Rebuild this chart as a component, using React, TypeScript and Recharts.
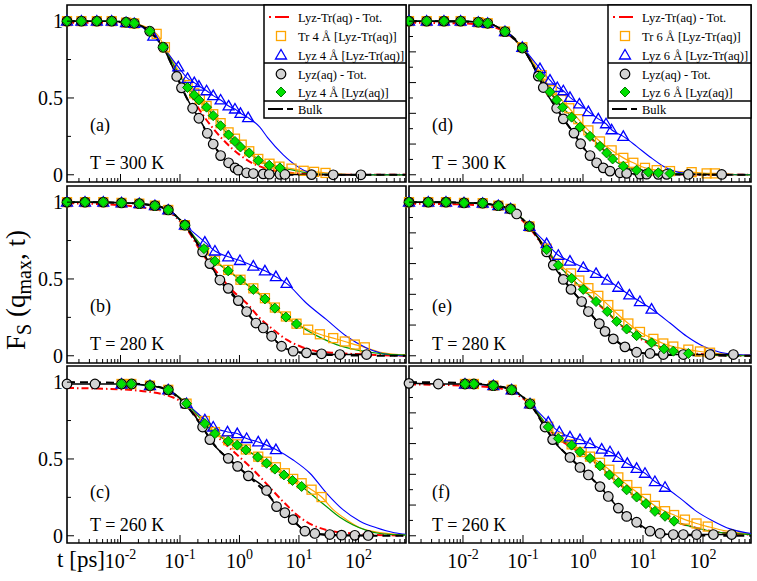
import React from "react";
import { ComposedChart, Line, Scatter, XAxis, YAxis, ReferenceArea } from "recharts";

type Pt = [number, number];

const T_MIN = 0.00126;
const T_MAX = 631;
const Y_MIN = -0.047;
const Y_MAX = 1.105;

const X_MAJOR = [0.01, 0.1, 1, 10, 100];
const X_EXP = ["-2", "-1", "0", "1", "2"];
const Y_TICKS_LEFT = [0, 0.25, 0.5, 0.75, 1];
const Y_LABELS_LEFT = ["0", "", "0.5", "", "1"];
const Y_TICKS_RIGHT = [0, 0.1, 0.2, 0.3, 0.4, 0.5, 0.6, 0.7, 0.8, 0.9, 1];

const X_TICKS: number[] = [];
[0.001, 0.01, 0.1, 1, 10, 100].forEach((d) => {
  for (let k = 1; k <= 9; k++) {
    const v = +(k * d).toPrecision(3);
    if (v >= T_MIN && v <= T_MAX) X_TICKS.push(v);
  }
});

const NAMES = ["(a)", "(b)", "(c)", "(d)", "(e)", "(f)"];
const TEMPS = ["T = 300 K", "T = 280 K", "T = 260 K"];
const LEGEND_4 = ["Lyz-Tr(aq) - Tot.", "Tr 4 Å [Lyz-Tr(aq)]", "Lyz 4 Å [Lyz-Tr(aq)]", "Lyz(aq) - Tot.", "Lyz 4 Å [Lyz(aq)]", "Bulk"];
const LEGEND_6 = ["Lyz-Tr(aq) - Tot.", "Tr 6 Å [Lyz-Tr(aq)]", "Lyz 6 Å [Lyz-Tr(aq)]", "Lyz(aq) - Tot.", "Lyz 6 Å [Lyz(aq)]", "Bulk"];

// ---- panel (a) 300 K, 4 A ----
const aTot: Pt[] = [[0.00126, 0.99], [0.004, 0.99], [0.01, 0.985], [0.02, 0.972], [0.032, 0.935], [0.05, 0.845], [0.088, 0.67], [0.138, 0.55], [0.2, 0.44], [0.363, 0.3], [0.6, 0.207], [1.0, 0.131], [1.7, 0.073], [2.9, 0.039], [5.5, 0.017], [16, 0.005], [40, 0], [631, 0]];
const aTr: Pt[] = [[0.00126, 1.0], [0.0022, 1.0], [0.004, 1.0], [0.0071, 1.0], [0.0124, 0.99], [0.017, 0.985], [0.0405, 0.917], [0.0558, 0.83], [0.134, 0.584], [0.174, 0.53], [0.216, 0.491], [0.28, 0.448], [0.362, 0.394], [0.482, 0.336], [0.656, 0.276], [0.84, 0.235], [1.09, 0.196], [1.46, 0.153], [2.07, 0.103], [3.2, 0.072], [4.7, 0.053], [7.5, 0.04], [12, 0.026], [18, 0.019], [28, 0.012]];
const aTrTail: Pt[] = [[50, 0.005], [100, 0.001], [631, 0]];
const aLyz: Pt[] = [[0.00126, 1.0], [0.0022, 1.0], [0.004, 1.0], [0.0071, 1.0], [0.0124, 0.99], [0.017, 0.985], [0.0356, 0.902], [0.0936, 0.702], [0.134, 0.627], [0.174, 0.6], [0.208, 0.577], [0.28, 0.547], [0.362, 0.515], [0.482, 0.487], [0.656, 0.448], [0.84, 0.428], [1.04, 0.4], [1.4, 0.372]];
const aLyzTail: Pt[] = [[2.2, 0.31], [3.0, 0.24], [5.4, 0.131], [9.8, 0.05], [14.5, 0.016], [22, 0.004], [50, 0], [631, 0]];
const aAq: Pt[] = [[0.00126, 1.0], [0.0022, 1.0], [0.004, 1.0], [0.0071, 1.0], [0.0124, 0.993], [0.017, 0.986], [0.031, 0.934], [0.052, 0.83], [0.088, 0.64], [0.106, 0.566], [0.163, 0.433], [0.208, 0.368], [0.288, 0.27], [0.362, 0.2], [0.482, 0.125], [0.656, 0.078], [0.84, 0.045], [0.955, 0.03], [1.32, 0.013], [1.71, 0.008], [2.51, 0.006], [3.17, 0.004], [4.79, 0.003], [5.81, 0.002], [16.3, 0.001], [37.7, 0], [110, 0]];
const aShell: Pt[] = [[0.00126, 1.0], [0.0022, 1.0], [0.004, 1.0], [0.0071, 1.0], [0.0124, 0.993], [0.017, 0.986], [0.031, 0.934], [0.052, 0.83], [0.134, 0.568], [0.174, 0.519], [0.208, 0.487], [0.28, 0.44], [0.362, 0.385], [0.482, 0.319], [0.656, 0.26], [0.84, 0.217], [1.04, 0.181], [1.46, 0.142], [2.07, 0.093], [3.17, 0.062], [4.79, 0.045]];
const aShellTail: Pt[] = [[8.0, 0.03], [13.4, 0.013], [30, 0.003], [100, 0], [631, 0]];
const aBulk: Pt[] = [[0.00126, 1.0], [0.01, 0.995], [0.03, 0.94], [0.05, 0.84], [0.088, 0.645], [0.13, 0.5], [0.2, 0.375], [0.3, 0.26], [0.5, 0.12], [0.8, 0.048], [1.3, 0.014], [3, 0.003], [10, 0], [631, 0]];

// ---- panel (b) 280 K, 4 A ----
const bTot: Pt[] = [[0.00126, 0.993], [0.01, 0.98], [0.0379, 0.952], [0.0635, 0.935], [0.121, 0.84], [0.246, 0.657], [0.41, 0.547], [0.79, 0.418], [1.32, 0.342], [2.2, 0.245], [3.7, 0.17], [6.2, 0.105], [10.4, 0.062], [19.8, 0.03], [37.7, 0.02], [137, 0.008], [631, 0]];
const bTr: Pt[] = [[0.00126, 1.0], [0.00253, 1.0], [0.00514, 1.0], [0.0104, 0.995], [0.0207, 0.99], [0.0379, 0.977], [0.0635, 0.949], [0.121, 0.85], [0.253, 0.687], [0.387, 0.62], [0.647, 0.559], [1.04, 0.495], [1.71, 0.439], [2.68, 0.375], [3.94, 0.314], [6.04, 0.256], [9.1, 0.209], [14.3, 0.17], [22.5, 0.14], [37.7, 0.115], [59, 0.093], [87, 0.073], [128, 0.055]];
const bTrTail: Pt[] = [[250, 0.02], [631, 0.004]];
const bLyz: Pt[] = [[0.00126, 1.0], [0.00253, 1.0], [0.00514, 1.0], [0.0104, 0.995], [0.0207, 0.99], [0.0379, 0.977], [0.0635, 0.949], [0.121, 0.85], [0.262, 0.74], [0.387, 0.682], [0.647, 0.644], [1.02, 0.62], [1.71, 0.584], [2.68, 0.553], [4.1, 0.515], [6.2, 0.471]];
const bLyzTail: Pt[] = [[13.4, 0.342], [29.1, 0.235], [63, 0.127], [137, 0.051], [229, 0.019], [400, 0.004], [631, 0]];
const bAq: Pt[] = [[0.00126, 1.0], [0.00253, 1.0], [0.00514, 1.0], [0.0104, 0.995], [0.0207, 0.99], [0.0379, 0.977], [0.0635, 0.949], [0.121, 0.85], [0.24, 0.676], [0.318, 0.6], [0.469, 0.493], [0.647, 0.439], [0.955, 0.359], [1.32, 0.288], [1.89, 0.213], [2.51, 0.181], [3.47, 0.127], [5.1, 0.062], [8.0, 0.03], [13.4, 0.019], [24, 0.013], [48.8, 0.008], [137, 0.008]];
const bShell: Pt[] = [[0.00126, 1.0], [0.00253, 1.0], [0.00514, 1.0], [0.0104, 0.995], [0.0207, 0.99], [0.0379, 0.977], [0.0635, 0.949], [0.121, 0.85], [0.253, 0.697], [0.387, 0.616], [0.647, 0.553], [1.04, 0.493], [1.71, 0.432], [2.68, 0.37], [3.94, 0.31], [6.04, 0.252], [9.1, 0.207]];
const bShellTail: Pt[] = [[19.8, 0.131], [42.9, 0.073], [106, 0.034], [229, 0.015], [631, 0.004]];
const bBulk: Pt[] = [[0.00126, 1.0], [0.01, 0.995], [0.04, 0.975], [0.065, 0.945], [0.12, 0.85], [0.24, 0.675], [0.47, 0.49], [0.95, 0.355], [1.9, 0.21], [3.5, 0.12], [5.5, 0.055], [9, 0.025], [20, 0.01], [60, 0.003], [631, 0]];

// ---- panel (c) 260 K, 4 A ----
const cTot: Pt[] = [[0.00126, 0.962], [0.004, 0.958], [0.02, 0.945], [0.077, 0.9], [0.121, 0.855], [0.246, 0.725], [0.469, 0.63], [0.785, 0.55], [1.32, 0.47], [2.2, 0.385], [3.7, 0.29], [6.2, 0.2], [10.4, 0.12], [17.4, 0.068], [29, 0.038], [63, 0.019], [137, 0.008], [631, 0.002]];
const cTr: Pt[] = [[0.0104, 0.988], [0.0152, 0.988], [0.0313, 0.977], [0.0635, 0.95], [0.129, 0.86], [0.262, 0.747], [0.387, 0.675], [0.647, 0.622], [0.918, 0.595], [1.28, 0.562], [2.07, 0.515], [2.86, 0.482], [4.1, 0.446], [5.8, 0.407], [8.0, 0.37], [11.1, 0.342], [16.3, 0.3], [24, 0.252]];
const cTrTail: Pt[] = [[37.7, 0.17], [63, 0.105], [106, 0.052], [201, 0.024], [631, 0.006]];
const cLyz: Pt[] = [[0.0104, 0.988], [0.0313, 0.977], [0.0635, 0.95], [0.129, 0.86], [0.262, 0.755], [0.362, 0.708], [0.63, 0.676], [0.918, 0.665], [1.32, 0.633], [2.07, 0.611], [2.86, 0.59], [4.1, 0.561]];
const cLyzTail: Pt[] = [[8.0, 0.493], [15.3, 0.407], [29, 0.278], [55, 0.17], [106, 0.095], [201, 0.052], [400, 0.02], [631, 0.01]];
const cAq: Pt[] = [[0.00126, 0.988], [0.00372, 0.988], [0.0104, 0.988], [0.0154, 0.988], [0.0313, 0.977], [0.0635, 0.95], [0.121, 0.86], [0.24, 0.708], [0.318, 0.626], [0.647, 0.504], [0.929, 0.452], [1.41, 0.39], [2.86, 0.295], [4.2, 0.19], [5.8, 0.15], [8.0, 0.105], [12.6, 0.03], [18.5, 0.015], [33, 0.008], [52, 0.004], [87, 0.003], [146, 0.002]];
const cShell: Pt[] = [[0.0104, 0.988], [0.0152, 0.988], [0.0313, 0.977], [0.0635, 0.95], [0.129, 0.86], [0.262, 0.73], [0.387, 0.665], [0.647, 0.616], [0.918, 0.59], [1.28, 0.559], [2.02, 0.512], [2.86, 0.472], [3.94, 0.434], [5.59, 0.396], [7.8, 0.36], [11.1, 0.321]];
const cShellTail: Pt[] = [[17.4, 0.26], [29, 0.19], [48.8, 0.12], [81.7, 0.07], [137, 0.035], [229, 0.015], [631, 0.004]];
const cBulk: Pt[] = [[0.00126, 1.0], [0.01, 0.995], [0.03, 0.98], [0.06, 0.95], [0.12, 0.86], [0.24, 0.705], [0.4, 0.58], [0.65, 0.5], [1.0, 0.44], [1.6, 0.37], [2.8, 0.28], [4.5, 0.19], [7, 0.12], [11, 0.05], [18, 0.015], [40, 0.003], [631, 0]];

// ---- panel (d) 300 K, 6 A ----
const dTot: Pt[] = [[0.00126, 0.99], [0.01, 0.985], [0.03, 0.965], [0.05, 0.928], [0.0975, 0.825], [0.19, 0.645], [0.3, 0.525], [0.45, 0.44], [0.65, 0.37], [0.9, 0.31], [1.3, 0.245], [2.0, 0.178], [3.0, 0.115], [4.7, 0.062], [7.8, 0.03], [15, 0.012], [30, 0.005], [100, 0.001], [631, 0]];
const dTr: Pt[] = [[0.00126, 1.0], [0.00248, 1.0], [0.00482, 1.0], [0.00914, 1.0], [0.018, 0.993], [0.0258, 0.986], [0.0501, 0.932], [0.0975, 0.83], [0.205, 0.648], [0.301, 0.551], [0.441, 0.487], [0.591, 0.433], [0.836, 0.362], [1.23, 0.289], [1.92, 0.217], [3.0, 0.159], [4.7, 0.11], [6.9, 0.078], [10.8, 0.045], [16.9, 0.03], [28.2, 0.024], [64.7, 0.017], [115, 0.009], [158, 0.009]];
const dTrTail: Pt[] = [[300, 0.003], [631, 0]];
const dLyz: Pt[] = [[0.00126, 1.0], [0.00248, 1.0], [0.00482, 1.0], [0.00914, 1.0], [0.018, 0.993], [0.0258, 0.986], [0.0501, 0.932], [0.0975, 0.83], [0.192, 0.691], [0.282, 0.616], [0.373, 0.568], [0.47, 0.547], [0.607, 0.504], [0.869, 0.461], [1.23, 0.411], [1.8, 0.364], [2.42, 0.332], [3.0, 0.293], [4.7, 0.25]];
const dLyzTail: Pt[] = [[7.83, 0.185], [13.1, 0.116], [21.8, 0.056], [36.4, 0.019], [53.4, 0.009], [101, 0.002], [631, 0]];
const dAq: Pt[] = [[0.00126, 1.0], [0.00248, 1.0], [0.00482, 1.0], [0.00914, 1.0], [0.018, 0.993], [0.0258, 0.986], [0.0501, 0.932], [0.0975, 0.825], [0.18, 0.642], [0.218, 0.568], [0.364, 0.433], [0.47, 0.364], [0.708, 0.271], [0.914, 0.202], [1.31, 0.125], [1.69, 0.078], [2.18, 0.045], [2.82, 0.024], [4.14, 0.013], [5.34, 0.009], [8.9, 0.004], [11.5, 0.004], [18, 0.003], [24.8, 0.003], [57, 0.002], [205, 0.002]];
const dShell: Pt[] = [[0.00126, 1.0], [0.00248, 1.0], [0.00482, 1.0], [0.00914, 1.0], [0.018, 0.993], [0.0258, 0.986], [0.0501, 0.932], [0.0975, 0.825], [0.192, 0.642], [0.282, 0.54], [0.364, 0.487], [0.458, 0.439], [0.647, 0.375], [0.891, 0.31], [1.31, 0.25], [1.92, 0.185], [2.48, 0.142], [3.12, 0.103], [4.7, 0.056], [7.83, 0.03], [12.3, 0.017], [18, 0.013], [28.2, 0.009]];
const dShellTail: Pt[] = [[60, 0.004], [150, 0.001], [631, 0]];
const dBulk: Pt[] = [[0.00126, 1.0], [0.01, 0.997], [0.026, 0.985], [0.05, 0.935], [0.0975, 0.83], [0.18, 0.645], [0.25, 0.53], [0.36, 0.435], [0.5, 0.35], [0.7, 0.27], [1.0, 0.18], [1.4, 0.11], [2.2, 0.045], [3.5, 0.015], [7, 0.004], [631, 0]];

// ---- panel (e) 280 K, 6 A ----
const eTot: Pt[] = [[0.00126, 0.99], [0.01, 0.985], [0.04, 0.96], [0.08, 0.91], [0.13, 0.83], [0.25, 0.68], [0.65, 0.5], [1.0, 0.43], [1.65, 0.35], [2.5, 0.285], [3.6, 0.225], [5.3, 0.17], [7.8, 0.125], [13, 0.08], [22, 0.05], [40, 0.025], [100, 0.01], [200, 0.003], [631, 0]];
const eTr: Pt[] = [[0.00126, 1.0], [0.00264, 1.0], [0.00521, 1.0], [0.0104, 0.995], [0.0213, 0.993], [0.0388, 0.977], [0.0622, 0.956], [0.128, 0.842], [0.248, 0.697], [0.388, 0.6], [0.631, 0.536], [0.869, 0.49], [1.23, 0.44], [1.8, 0.39], [2.64, 0.33], [3.88, 0.267], [5.7, 0.21], [8.9, 0.155], [14.9, 0.11], [21.8, 0.08], [32, 0.06], [57, 0.04], [89, 0.028], [131, 0.02]];
const eTrTail: Pt[] = [[300, 0.006], [631, 0.002]];
const eLyz: Pt[] = [[0.00126, 1.0], [0.00264, 1.0], [0.00521, 1.0], [0.0104, 0.995], [0.0213, 0.993], [0.0388, 0.977], [0.0622, 0.956], [0.128, 0.842], [0.248, 0.73], [0.388, 0.654], [0.607, 0.616], [1.01, 0.575], [1.65, 0.536], [2.54, 0.493], [3.88, 0.446], [5.92, 0.396], [8.9, 0.353], [13.9, 0.304]];
const eLyzTail: Pt[] = [[28.2, 0.213], [53.4, 0.127], [101, 0.062], [192, 0.023], [321, 0.01], [631, 0.004]];
const eAq: Pt[] = [[0.00126, 1.0], [0.00264, 1.0], [0.00521, 1.0], [0.0104, 0.995], [0.0213, 0.993], [0.0388, 0.977], [0.0622, 0.956], [0.0783, 0.923], [0.128, 0.842], [0.248, 0.676], [0.32, 0.59], [0.47, 0.497], [0.631, 0.432], [0.95, 0.353], [1.23, 0.288], [1.87, 0.209], [2.33, 0.159], [3.2, 0.11], [5.0, 0.058], [7.83, 0.023], [13.1, 0.015], [21.8, 0.008], [47, 0.008], [131, 0.008], [321, 0.008]];
const eShell: Pt[] = [[0.00126, 1.0], [0.00264, 1.0], [0.00521, 1.0], [0.0104, 0.995], [0.0213, 0.993], [0.0388, 0.977], [0.0622, 0.956], [0.128, 0.842], [0.248, 0.691], [0.388, 0.59], [0.647, 0.504], [1.01, 0.432], [1.65, 0.353], [2.54, 0.288], [3.64, 0.224], [5.34, 0.174], [7.83, 0.131], [13.9, 0.084], [22.4, 0.045], [32, 0.03], [57, 0.015]];
const eShellTail: Pt[] = [[120, 0.005], [300, 0.001], [631, 0]];
const eBulk: Pt[] = [[0.00126, 1.0], [0.01, 0.997], [0.04, 0.975], [0.08, 0.92], [0.13, 0.84], [0.25, 0.675], [0.47, 0.5], [0.95, 0.35], [1.5, 0.25], [2.3, 0.165], [3.5, 0.1], [5.5, 0.05], [9, 0.02], [20, 0.006], [631, 0]];

// ---- panel (f) 260 K, 6 A ----
const fTot: Pt[] = [[0.00126, 0.985], [0.01, 0.978], [0.04, 0.96], [0.07, 0.93], [0.131, 0.855], [0.26, 0.7], [0.4, 0.63], [0.65, 0.575], [0.9, 0.54], [1.3, 0.5], [1.9, 0.452], [2.75, 0.393], [3.9, 0.343], [5.3, 0.297], [7.8, 0.25], [11, 0.207], [16, 0.16], [23, 0.125], [33, 0.095], [61, 0.062], [115, 0.036], [218, 0.019], [631, 0.008]];
const fTr: Pt[] = [[0.0108, 0.988], [0.0152, 0.988], [0.0321, 0.977], [0.0647, 0.95], [0.131, 0.859], [0.264, 0.71], [0.388, 0.64], [0.647, 0.595], [0.95, 0.545], [1.31, 0.515], [1.92, 0.475], [2.75, 0.43], [3.88, 0.38], [5.48, 0.33], [7.83, 0.285], [11.2, 0.24], [15.8, 0.195], [23.3, 0.16], [33, 0.135], [50, 0.105], [78, 0.08], [120, 0.06]];
const fTrTail: Pt[] = [[250, 0.03], [631, 0.012]];
const fLyz: Pt[] = [[0.0108, 0.988], [0.0321, 0.977], [0.0647, 0.95], [0.131, 0.859], [0.264, 0.74], [0.403, 0.676], [0.607, 0.644], [0.891, 0.626], [1.31, 0.6], [2.05, 0.564], [2.82, 0.547], [3.88, 0.51], [5.48, 0.471], [7.83, 0.439], [10.8, 0.407], [15.8, 0.353], [23.3, 0.316]];
const fLyzTail: Pt[] = [[41.4, 0.245], [78, 0.159], [149, 0.095], [282, 0.045], [534, 0.019], [631, 0.015]];
const fAq: Pt[] = [[0.00126, 0.992], [0.00388, 0.988], [0.0108, 0.988], [0.0152, 0.988], [0.0321, 0.977], [0.0647, 0.95], [0.131, 0.859], [0.233, 0.708], [0.312, 0.626], [0.607, 0.51], [0.891, 0.445], [1.23, 0.396], [1.92, 0.32], [2.64, 0.256], [3.88, 0.18], [5.34, 0.126], [7.83, 0.088], [13.1, 0.03], [19.2, 0.015], [32, 0.008], [47, 0.008], [78, 0.008], [149, 0.008], [300, 0.008]];
const fShell: Pt[] = [[0.0108, 0.988], [0.0152, 0.988], [0.0321, 0.977], [0.0647, 0.95], [0.131, 0.859], [0.264, 0.708], [0.388, 0.633], [0.647, 0.59], [0.891, 0.547], [1.31, 0.504], [1.92, 0.455], [2.75, 0.396], [3.88, 0.346], [5.34, 0.299], [7.83, 0.252], [11.2, 0.209], [15.8, 0.159], [23.3, 0.127], [32.9, 0.095]];
const fShellTail: Pt[] = [[60.7, 0.062], [115, 0.036], [218, 0.019], [414, 0.013], [631, 0.008]];
const fBulk: Pt[] = [[0.00126, 1.0], [0.01, 0.995], [0.03, 0.98], [0.065, 0.95], [0.13, 0.86], [0.23, 0.71], [0.4, 0.58], [0.6, 0.51], [0.9, 0.445], [1.3, 0.385], [2, 0.31], [3, 0.235], [4.5, 0.16], [7, 0.095], [11, 0.04], [18, 0.015], [40, 0.004], [631, 0]];

type PanelData = {
  col: number; row: number;
  tot: Pt[]; tr: Pt[]; trTail: Pt[]; lyz: Pt[]; lyzTail: Pt[];
  aq: Pt[]; shell: Pt[]; shellTail: Pt[]; bulk: Pt[];
};

const PANELS: PanelData[] = [
  { col: 0, row: 0, tot: aTot, tr: aTr, trTail: aTrTail, lyz: aLyz, lyzTail: aLyzTail, aq: aAq, shell: aShell, shellTail: aShellTail, bulk: aBulk },
  { col: 0, row: 1, tot: bTot, tr: bTr, trTail: bTrTail, lyz: bLyz, lyzTail: bLyzTail, aq: bAq, shell: bShell, shellTail: bShellTail, bulk: bBulk },
  { col: 0, row: 2, tot: cTot, tr: cTr, trTail: cTrTail, lyz: cLyz, lyzTail: cLyzTail, aq: cAq, shell: cShell, shellTail: cShellTail, bulk: cBulk },
  { col: 1, row: 0, tot: dTot, tr: dTr, trTail: dTrTail, lyz: dLyz, lyzTail: dLyzTail, aq: dAq, shell: dShell, shellTail: dShellTail, bulk: dBulk },
  { col: 1, row: 1, tot: eTot, tr: eTr, trTail: eTrTail, lyz: eLyz, lyzTail: eLyzTail, aq: eAq, shell: eShell, shellTail: eShellTail, bulk: eBulk },
  { col: 1, row: 2, tot: fTot, tr: fTr, trTail: fTrTail, lyz: fLyz, lyzTail: fLyzTail, aq: fAq, shell: fShell, shellTail: fShellTail, bulk: fBulk },
];

// layout
const COLS = [{ left: 67, width: 339 }, { left: 409, width: 342 }];
const ROWS = [5, 186, 366];
const PLOT_H = 177;
const YW = 45;
const XH = 36;
const NAME_Y = [131, 312, 498];
const TEMP_Y = [169, 350, 531];

const SERIF = "Liberation Serif, Times New Roman, Times, DejaVu Serif, serif";
const FONT = { fontFamily: SERIF };
const RED = "#ff0000";
const ORANGE = "#ffa500";
const BLUE = "#0000ff";
const GREEN_LINE = "#009a00";
const GREEN_FILL = "#00e000";
const GREEN_EDGE = "#007a00";
const GRAY = "#d3d3d3";

const square = (cx: number, cy: number) => (
  <rect x={cx - 4.5} y={cy - 4.5} width={9} height={9} fill="none" stroke={ORANGE} strokeWidth={1.3} />
);
const triangle = (cx: number, cy: number) => (
  <polygon points={`${cx},${cy - 5.5} ${cx + 5.5},${cy + 4} ${cx - 5.5},${cy + 4}`} fill="none" stroke={BLUE} strokeWidth={1.3} />
);
const circle = (cx: number, cy: number) => (
  <circle cx={cx} cy={cy} r={4.8} fill={GRAY} stroke="#000" strokeWidth={1.2} />
);
const diamond = (cx: number, cy: number) => (
  <polygon points={`${cx},${cy - 5} ${cx + 5},${cy} ${cx},${cy + 5} ${cx - 5},${cy}`} fill={GREEN_FILL} stroke={GREEN_EDGE} strokeWidth={1} />
);

const toData = (pts: Pt[]) => pts.map(([t, y]) => ({ t, y }));

const XTick = (p: any) => {
  const { x, y, payload, showLabel } = p;
  const v: number = payload.value;
  const idx = X_MAJOR.indexOf(v);
  const major = idx >= 0;
  return (
    <g>
      <line x1={x} x2={x} y1={y} y2={y - (major ? 8 : 4)} stroke="#000" strokeWidth={1} />
      {showLabel && major && (
        <text x={x} y={y + 25} textAnchor="middle" style={FONT} fontSize={20} fill="#000">
          10<tspan dy={-9} fontSize={14}>{X_EXP[idx]}</tspan>
        </text>
      )}
    </g>
  );
};

const YTick = (p: any) => {
  const { x, y, payload, left } = p;
  const v: number = payload.value;
  const idx = Y_TICKS_LEFT.indexOf(v);
  const long = left ? idx >= 0 && Y_LABELS_LEFT[idx] !== "" : Math.round(v * 10) % 2 === 0;
  return (
    <g>
      <line x1={x} x2={x + (long ? 7 : 4)} y1={y} y2={y} stroke="#000" strokeWidth={1} />
      {left && idx >= 0 && Y_LABELS_LEFT[idx] !== "" && (
        <text x={x - 4} y={y} dy="0.34em" textAnchor="end" style={FONT} fontSize={20} fill="#000">
          {Y_LABELS_LEFT[idx]}
        </text>
      )}
    </g>
  );
};

function Panel({ d }: { d: PanelData }) {
  const col = COLS[d.col];
  const top = ROWS[d.row];
  const bottom = d.row === 2;
  const left = d.col === 0;
  return (
    <div style={{ position: "absolute", left: col.left - YW, top: top - 2 }}>
      <ComposedChart width={YW + col.width + 2} height={2 + PLOT_H + XH} margin={{ top: 2, right: 2, bottom: 0, left: 0 }}>
        <XAxis dataKey="t" type="number" scale="log" domain={[T_MIN, T_MAX]} ticks={X_TICKS} interval={0}
          height={XH} axisLine={false} tickLine={false} tickSize={0} tickMargin={0}
          tick={(p: any) => <XTick {...p} showLabel={bottom} />} />
        <YAxis dataKey="y" type="number" domain={[Y_MIN, Y_MAX]} ticks={left ? Y_TICKS_LEFT : Y_TICKS_RIGHT} interval={0}
          width={YW} axisLine={false} tickLine={false} tickSize={0} tickMargin={0}
          tick={(p: any) => <YTick {...p} left={left} />} />
        <Line data={toData(d.tot)} dataKey="y" type="monotone" stroke={RED} strokeWidth={2} strokeDasharray="7 3 1.5 3" dot={false} activeDot={false} isAnimationActive={false} />
        <Line data={toData([...d.tr, ...d.trTail])} dataKey="y" type="monotone" stroke={ORANGE} strokeWidth={1.2} dot={false} activeDot={false} isAnimationActive={false} />
        <Line data={toData([...d.lyz, ...d.lyzTail])} dataKey="y" type="monotone" stroke={BLUE} strokeWidth={1.1} dot={false} activeDot={false} isAnimationActive={false} />
        <Line data={toData([...d.shell, ...d.shellTail])} dataKey="y" type="monotone" stroke={GREEN_LINE} strokeWidth={1.2} dot={false} activeDot={false} isAnimationActive={false} />
        <Line data={toData(d.aq)} dataKey="y" type="monotone" stroke="#000" strokeWidth={1.5} dot={false} activeDot={false} isAnimationActive={false} />
        <Scatter data={toData(d.tr)} isAnimationActive={false} shape={(p: any) => square(p.cx, p.cy)} />
        <Scatter data={toData(d.lyz)} isAnimationActive={false} shape={(p: any) => triangle(p.cx, p.cy)} />
        <Scatter data={toData(d.aq)} isAnimationActive={false} shape={(p: any) => circle(p.cx, p.cy)} />
        <Scatter data={toData(d.shell)} isAnimationActive={false} shape={(p: any) => diamond(p.cx, p.cy)} />
        <Line data={toData(d.bulk)} dataKey="y" type="monotone" stroke="#000" strokeWidth={2} strokeDasharray="8 5" dot={false} activeDot={false} isAnimationActive={false} />
        <ReferenceArea x1={T_MIN} x2={T_MAX} y1={Y_MIN} y2={Y_MAX} fill="none" fillOpacity={0} stroke="#000" strokeWidth={1.6} />
      </ComposedChart>
    </div>
  );
}

const LEG_ROWS = [17, 36, 55, 74, 92, 109];

function LegendBox({ left, right, names }: { left: number; right: number; names: string[] }) {
  const sx = left + 17;
  return (
    <g>
      <rect x={left} y={5} width={right - left} height={113} fill="#fff" stroke="#000" strokeWidth={1.5} />
      <line x1={left} x2={right} y1={63} y2={63} stroke="#000" strokeWidth={1.5} />
      <line x1={left} x2={right} y1={101} y2={101} stroke="#000" strokeWidth={1.5} />
      <line x1={left + 5} x2={left + 7} y1={LEG_ROWS[0]} y2={LEG_ROWS[0]} stroke={RED} strokeWidth={2} />
      <line x1={left + 11} x2={left + 25} y1={LEG_ROWS[0]} y2={LEG_ROWS[0]} stroke={RED} strokeWidth={2} />
      {square(sx, LEG_ROWS[1])}
      {triangle(sx, LEG_ROWS[2])}
      {circle(sx, LEG_ROWS[3])}
      {diamond(sx, LEG_ROWS[4])}
      <line x1={left + 4} x2={left + 19} y1={LEG_ROWS[5]} y2={LEG_ROWS[5]} stroke="#000" strokeWidth={2} />
      <line x1={left + 23} x2={left + 29} y1={LEG_ROWS[5]} y2={LEG_ROWS[5]} stroke="#000" strokeWidth={2} />
      {names.map((n, i) => (
        <text key={n + i} x={left + 34} y={LEG_ROWS[i] + 4.5} style={FONT} fontSize={12.5} fill="#000">{n}</text>
      ))}
    </g>
  );
}

export default function App() {
  return (
    <div style={{ position: "absolute", left: 0, top: 0, width: 757, height: 581, background: "#fff", fontFamily: SERIF }}>
      {PANELS.map((d, i) => (
        <Panel key={i} d={d} />
      ))}
      <svg width={757} height={581} style={{ position: "absolute", left: 0, top: 0, pointerEvents: "none", fontFamily: SERIF }}>
        {PANELS.map((d, i) => (
          <g key={i} style={FONT} fontSize={18} fill="#000">
            <text x={COLS[d.col].left + 23} y={NAME_Y[d.row]} style={FONT}>{NAMES[i]}</text>
            <text x={COLS[d.col].left + 23} y={TEMP_Y[d.row]} style={FONT}>{TEMPS[d.row]}</text>
          </g>
        ))}
        <LegendBox left={264} right={406} names={LEGEND_4} />
        <LegendBox left={608} right={751} names={LEGEND_6} />
        <text transform="translate(25,290) rotate(-90)" textAnchor="middle" style={FONT} fontSize={27} fill="#000">
          F<tspan dy={6} fontSize={20}>S</tspan><tspan dy={-6}> (q</tspan><tspan dy={6} fontSize={20}>max</tspan><tspan dy={-6}>, t)</tspan>
        </text>
        <text x={105} y={567} textAnchor="end" style={FONT} fontSize={23} fill="#000">t [ps]</text>
      </svg>
    </div>
  );
}
